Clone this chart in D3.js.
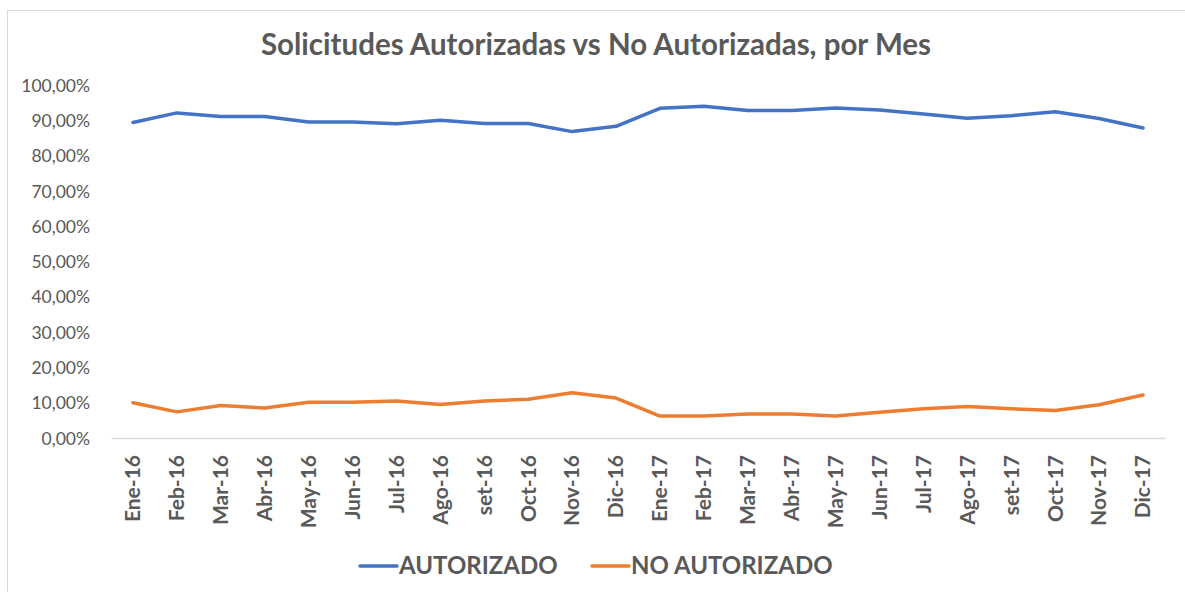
<!DOCTYPE html>
<html>
<head>
<meta charset="utf-8">
<script src="https://cdn.jsdelivr.net/npm/d3@7"></script>
<style>
  body { margin: 0; background: #fff; }
  svg text { font-family: Lato, "Open Sans", sans-serif; fill: #595959; }
</style>
</head>
<body>
<div id="chart"></div>
<script>
var months = ["Ene-16", "Feb-16", "Mar-16", "Abr-16", "May-16", "Jun-16", "Jul-16", "Ago-16", "set-16", "Oct-16", "Nov-16", "Dic-16",
              "Ene-17", "Feb-17", "Mar-17", "Abr-17", "May-17", "Jun-17", "Jul-17", "Ago-17", "set-17", "Oct-17", "Nov-17", "Dic-17"];
var autorizado = [89.4, 92.1, 91.1, 91.1, 89.5, 89.5, 89.0, 90.0, 89.1, 89.1, 86.8, 88.3,
                  93.4, 94.0, 92.8, 92.8, 93.5, 92.9, 91.8, 90.6, 91.3, 92.4, 90.5, 87.8];
var noAutorizado = [10.0, 7.4, 9.2, 8.5, 10.1, 10.1, 10.5, 9.5, 10.5, 11.0, 12.8, 11.3,
                    6.2, 6.2, 6.8, 6.8, 6.2, 7.3, 8.3, 8.9, 8.3, 7.8, 9.4, 12.2];
var yTicks = [0, 10, 20, 30, 40, 50, 60, 70, 80, 90, 100];
var seriesNames = ["AUTORIZADO", "NO AUTORIZADO"];
var seriesColors = ["#4472C4", "#ED7D31"];

var width = 1185, height = 592;
var margin = { top: 85, right: 20, bottom: 154, left: 111 };

var svg = d3.select("#chart")
  .append("svg")
  .attr("width", width)
  .attr("height", height);

// chart frame
svg.append("rect")
  .attr("x", 7.5)
  .attr("y", 10.5)
  .attr("width", 1200)
  .attr("height", 620)
  .attr("fill", "none")
  .attr("stroke", "#d9d9d9");

svg.append("text")
  .attr("x", 596)
  .attr("y", 55)
  .attr("text-anchor", "middle")
  .style("font-size", "29.5px")
  .style("font-weight", "bold")
  .text("Solicitudes Autorizadas vs No Autorizadas, por Mes");

var x = d3.scaleBand()
  .domain(months)
  .range([margin.left, width - margin.right]);

var y = d3.scaleLinear()
  .domain([0, 100])
  .range([height - margin.bottom, margin.top]);

var fmt = function(d) { return d3.format(".2f")(d).replace(".", ",") + "%"; };

// y axis labels
var yAxis = svg.append("g")
  .attr("transform", "translate(" + (margin.left - 21) + ",0)")
  .call(d3.axisLeft(y).tickValues(yTicks).tickFormat(fmt).tickSize(0).tickPadding(0));
yAxis.select(".domain").remove();
yAxis.selectAll("text")
  .style("font-size", "17.5px")
  .attr("fill", null)
  .attr("dy", "0.35em");

// x axis
var xAxis = svg.append("g")
  .attr("transform", "translate(0," + y(0) + ")")
  .call(d3.axisBottom(x).tickSize(0));
xAxis.select(".domain").attr("stroke", "#d9d9d9").attr("stroke-width", 1.5);
xAxis.selectAll("text")
  .attr("fill", null)
  .style("font-size", "21px")
  .style("font-weight", "bold")
  .style("text-anchor", "end")
  .attr("transform", "rotate(-90)")
  .attr("x", -17)
  .attr("y", 0)
  .attr("dy", "0.35em");

var line = d3.line()
  .x(function(d, i) { return x(months[i]) + x.bandwidth() / 2; })
  .y(function(d) { return y(d); });

[autorizado, noAutorizado].forEach(function(values, k) {
  svg.append("path")
    .datum(values)
    .attr("fill", "none")
    .attr("stroke", seriesColors[k])
    .attr("stroke-width", 3.5)
    .attr("stroke-linecap", "round")
    .attr("stroke-linejoin", "round")
    .attr("d", line);
});

// legend
var legendX = [360, 592];
var legend = svg.selectAll(".legend")
  .data(seriesNames)
  .enter().append("g")
  .attr("class", "legend")
  .attr("transform", function(d, i) { return "translate(" + legendX[i] + ",566)"; });

legend.append("line")
  .attr("x1", 0)
  .attr("x2", 37)
  .attr("stroke", function(d, i) { return seriesColors[i]; })
  .attr("stroke-width", 3.5)
  .attr("stroke-linecap", "round");

legend.append("text")
  .attr("x", 39)
  .attr("dy", "0.35em")
  .style("font-size", "24px")
  .style("font-weight", "bold")
  .text(function(d) { return d; });
</script>
</body>
</html>
